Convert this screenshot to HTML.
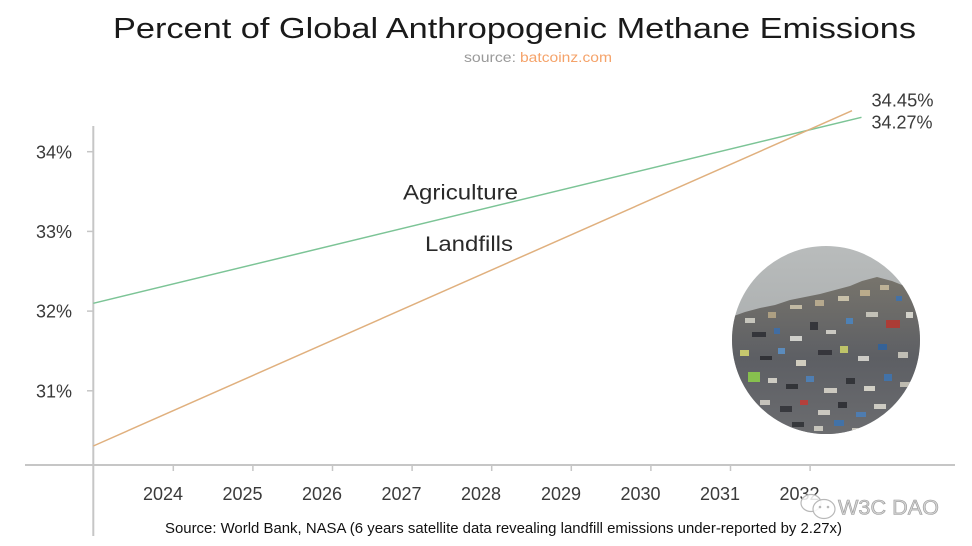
<!DOCTYPE html>
<html>
<head>
<meta charset="utf-8">
<style>
  html, body { margin: 0; padding: 0; background: #ffffff; }
  body { width: 972px; height: 546px; overflow: hidden; }
  svg { display: block; }
  text { font-family: "Liberation Sans", sans-serif; }
</style>
</head>
<body>
<svg width="972" height="546" viewBox="0 0 972 546" xmlns="http://www.w3.org/2000/svg">
  <rect width="972" height="546" fill="#ffffff"/>

  <!-- Title -->
  <text x="113" y="38" font-size="29" fill="#1a1a1a" textLength="803" lengthAdjust="spacingAndGlyphs">Percent of Global Anthropogenic Methane Emissions</text>
  <text x="464" y="62" font-size="13.5" fill="#9a9a9a" textLength="52" lengthAdjust="spacingAndGlyphs">source:</text>
  <text x="520" y="62" font-size="13.5" fill="#f5a36a" textLength="92" lengthAdjust="spacingAndGlyphs">batcoinz.com</text>

  <!-- Axes -->
  <line x1="93.3" y1="126" x2="93.3" y2="536" stroke="#c6c6c6" stroke-width="2"/>
  <line x1="25" y1="465" x2="955" y2="465" stroke="#c6c6c6" stroke-width="2"/>

  <!-- Y ticks -->
  <g stroke="#c6c6c6" stroke-width="1.5">
    <line x1="87" y1="151.7" x2="93" y2="151.7"/>
    <line x1="87" y1="231.4" x2="93" y2="231.4"/>
    <line x1="87" y1="311.1" x2="93" y2="311.1"/>
    <line x1="87" y1="390.8" x2="93" y2="390.8"/>
  </g>
  <g font-size="18" fill="#3a3a3a" text-anchor="end">
    <text x="72" y="158.3">34%</text>
    <text x="72" y="238">33%</text>
    <text x="72" y="317.7">32%</text>
    <text x="72" y="397.4">31%</text>
  </g>

  <!-- X ticks -->
  <g stroke="#c6c6c6" stroke-width="1.5">
    <line x1="173.3" y1="465" x2="173.3" y2="471"/>
    <line x1="252.9" y1="465" x2="252.9" y2="471"/>
    <line x1="332.5" y1="465" x2="332.5" y2="471"/>
    <line x1="412.1" y1="465" x2="412.1" y2="471"/>
    <line x1="491.7" y1="465" x2="491.7" y2="471"/>
    <line x1="571.3" y1="465" x2="571.3" y2="471"/>
    <line x1="650.9" y1="465" x2="650.9" y2="471"/>
    <line x1="730.5" y1="465" x2="730.5" y2="471"/>
    <line x1="810.1" y1="465" x2="810.1" y2="471"/>
  </g>
  <g font-size="18" fill="#3a3a3a" text-anchor="middle">
    <text x="163" y="500">2024</text>
    <text x="242.5" y="500">2025</text>
    <text x="322" y="500">2026</text>
    <text x="401.5" y="500">2027</text>
    <text x="481" y="500">2028</text>
    <text x="561" y="500">2029</text>
    <text x="640.5" y="500">2030</text>
    <text x="720" y="500">2031</text>
    <text x="799.5" y="500">2032</text>
  </g>

  <!-- Series -->
  <line x1="93.3" y1="303.3" x2="861.5" y2="117.3" stroke="#7cc496" stroke-width="1.5"/>
  <line x1="93.3" y1="446" x2="852" y2="110.7" stroke="#e0b07e" stroke-width="1.5"/>

  <!-- Series labels -->
  <text x="403" y="199.5" font-size="21" fill="#2a2a2a" textLength="115" lengthAdjust="spacingAndGlyphs">Agriculture</text>
  <text x="425" y="251" font-size="21" fill="#2a2a2a" textLength="88" lengthAdjust="spacingAndGlyphs">Landfills</text>

  <text x="871.5" y="106.7" font-size="18" fill="#3a3a3a" textLength="62" lengthAdjust="spacingAndGlyphs">34.45%</text>
  <text x="871.5" y="128.3" font-size="18" fill="#3a3a3a" textLength="61" lengthAdjust="spacingAndGlyphs">34.27%</text>

  <!-- Circle image (landfill) -->
  <defs>
    <clipPath id="circ"><circle cx="826" cy="340" r="94"/></clipPath>
    <linearGradient id="sky" x1="0" y1="0" x2="0" y2="1">
      <stop offset="0" stop-color="#b9bcbc"/>
      <stop offset="1" stop-color="#9da1a2"/>
    </linearGradient>
    <linearGradient id="heap" x1="0" y1="0" x2="0" y2="1">
      <stop offset="0" stop-color="#77746c"/>
      <stop offset="0.5" stop-color="#5d5f64"/>
      <stop offset="1" stop-color="#6c6d70"/>
    </linearGradient>
  </defs>
  <g clip-path="url(#circ)">
    <rect x="730" y="244" width="194" height="194" fill="url(#sky)"/>
    <polygon points="728,318 745,312 760,308 775,305 790,300 805,297 820,294 835,290 850,286 862,281 877,277 892,281 907,287 925,295 925,440 728,440" fill="url(#heap)"/>
    <g opacity="0.85">
      <rect x="745" y="318" width="10" height="5" fill="#d8d6cc"/>
      <rect x="768" y="312" width="8" height="6" fill="#b9a888"/>
      <rect x="790" y="305" width="12" height="4" fill="#d2c8ae"/>
      <rect x="815" y="300" width="9" height="6" fill="#c4b494"/>
      <rect x="838" y="296" width="11" height="5" fill="#d8cfb4"/>
      <rect x="860" y="290" width="10" height="6" fill="#c7b591"/>
      <rect x="880" y="285" width="9" height="5" fill="#cbbd9e"/>
      <rect x="896" y="296" width="6" height="5" fill="#3d72b0"/>
      <rect x="752" y="332" width="14" height="5" fill="#2c2d33"/>
      <rect x="774" y="328" width="6" height="6" fill="#3b6fad"/>
      <rect x="790" y="336" width="12" height="5" fill="#e2e2dc"/>
      <rect x="810" y="322" width="8" height="8" fill="#2d2e34"/>
      <rect x="826" y="330" width="10" height="4" fill="#dcdad2"/>
      <rect x="846" y="318" width="7" height="6" fill="#4a86c4"/>
      <rect x="866" y="312" width="12" height="5" fill="#d3d1c6"/>
      <rect x="886" y="320" width="14" height="8" fill="#b8352e"/>
      <rect x="906" y="312" width="7" height="6" fill="#e6e4dc"/>
      <rect x="740" y="350" width="9" height="6" fill="#d8da70"/>
      <rect x="760" y="356" width="12" height="4" fill="#2a2b30"/>
      <rect x="778" y="348" width="7" height="6" fill="#5b93cc"/>
      <rect x="796" y="360" width="10" height="6" fill="#e4e0ce"/>
      <rect x="818" y="350" width="14" height="5" fill="#2f3035"/>
      <rect x="840" y="346" width="8" height="7" fill="#cfd56a"/>
      <rect x="858" y="356" width="11" height="5" fill="#e0ded8"/>
      <rect x="878" y="344" width="9" height="6" fill="#2e63a0"/>
      <rect x="898" y="352" width="10" height="6" fill="#d2cfc4"/>
      <rect x="748" y="372" width="12" height="10" fill="#8fd24a"/>
      <rect x="768" y="378" width="9" height="5" fill="#e2dfd4"/>
      <rect x="786" y="384" width="12" height="5" fill="#2b2c31"/>
      <rect x="806" y="376" width="8" height="6" fill="#4d84c0"/>
      <rect x="824" y="388" width="13" height="5" fill="#dedbd0"/>
      <rect x="846" y="378" width="9" height="6" fill="#2c2d32"/>
      <rect x="864" y="386" width="11" height="5" fill="#e6e3d8"/>
      <rect x="884" y="374" width="8" height="7" fill="#3e76b4"/>
      <rect x="900" y="382" width="10" height="5" fill="#cfcbbe"/>
      <rect x="760" y="400" width="10" height="5" fill="#d6d3c8"/>
      <rect x="780" y="406" width="12" height="6" fill="#313237"/>
      <rect x="800" y="400" width="8" height="5" fill="#c23a34"/>
      <rect x="818" y="410" width="12" height="5" fill="#dcd9ce"/>
      <rect x="838" y="402" width="9" height="6" fill="#2a2b30"/>
      <rect x="856" y="412" width="10" height="5" fill="#4a80bc"/>
      <rect x="874" y="404" width="12" height="5" fill="#e0ddd2"/>
      <rect x="792" y="422" width="12" height="5" fill="#2e2f34"/>
      <rect x="814" y="426" width="9" height="5" fill="#d8d5ca"/>
      <rect x="834" y="420" width="10" height="6" fill="#3d74b2"/>
      <rect x="852" y="428" width="11" height="4" fill="#dedcd2"/>
    </g>
  </g>

  <!-- Footer -->
  <text x="165" y="533" font-size="15" fill="#111111" textLength="677" lengthAdjust="spacingAndGlyphs">Source: World Bank, NASA (6 years satellite data revealing landfill emissions under-reported by 2.27x)</text>

  <!-- Watermark -->
  <g fill="#ffffff" fill-opacity="0.85" stroke="#b8b8b8" stroke-width="1.2">
    <ellipse cx="811" cy="503" rx="10" ry="8.5"/>
    <ellipse cx="824" cy="509" rx="11" ry="9.5"/>
  </g>
  <g fill="#b8b8b8">
    <circle cx="820" cy="507" r="1.3"/>
    <circle cx="828" cy="507" r="1.3"/>
  </g>
  <text x="838" y="514.5" font-size="21" fill="#d4d4d4" stroke="#9a9a9a" stroke-width="0.6" textLength="101" lengthAdjust="spacingAndGlyphs">W3C DAO</text>
</svg>
</body>
</html>
